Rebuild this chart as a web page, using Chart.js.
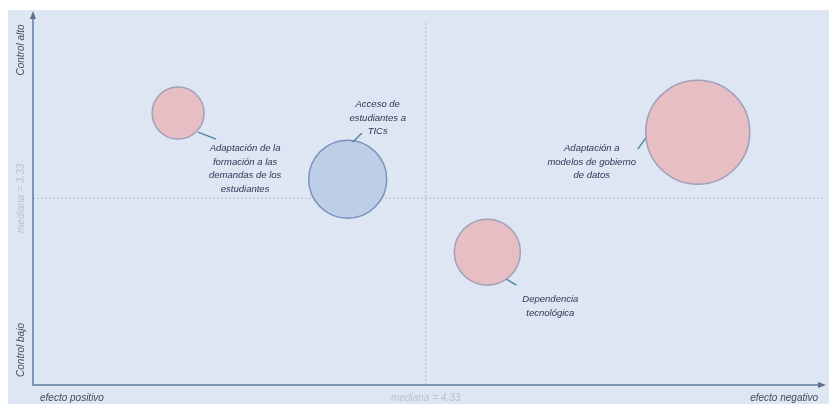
<!DOCTYPE html>
<html>
<head>
<meta charset="utf-8">
<script src="https://cdn.jsdelivr.net/npm/chart.js@4"></script>
<style>
html,body{margin:0;padding:0;background:#ffffff;}
#wrap{position:relative;width:829px;height:404px;}
</style>
</head>
<body>
<div id="wrap"><canvas id="c" width="829" height="404"></canvas></div>
<script>
// ---- data ----
const riskNames = [
  ["Adaptación de la", "formación a las", "demandas de los", "estudiantes"],
  ["Acceso de", "estudiantes a", "TICs"],
  ["Adaptación a", "modelos de gobierno", "de datos"],
  ["Dependencia", "tecnológica"]
];
const effectValues = [1.60, 3.47, 7.33, 5.01];   // x: efecto
const controlValues = [4.85, 3.67, 4.51, 2.37];  // y: control
const impactSizes = [26, 39, 52, 33];            // bubble radius
const bubbleGroup = ["pink", "blue", "pink", "pink"];
const medianX = 4.33;
const medianY = 3.33;
const xLabels = ["efecto positivo", "mediana = 4.33", "efecto negativo"];
const yLabels = ["Control bajo", "mediana = 3.33", "Control alto"];

// ---- styles ----
const fillColors = {pink: "rgba(232,190,197,1)", blue: "rgba(190,206,230,1)"};
const borderColors = {pink: "rgba(160,160,185,1)", blue: "rgba(120,145,190,1)"};
// label anchor offsets (pixels relative to bubble centre) and leader lines
const labelLayout = [
  {dx: 67, dy: 56, lx1: 20, ly1: 19, lx2: 38, ly2: 26},
  {dx: 30, dy: -61, lx1: 5, ly1: -37, lx2: 14, ly2: -46},
  {dx: -106, dy: 30, lx1: -52, ly1: 6, lx2: -60, ly2: 17},
  {dx: 63, dy: 54, lx1: 19, ly1: 27, lx2: 29, ly2: 33}
];

const points = effectValues.map((x, i) => ({x: x, y: controlValues[i], r: impactSizes[i]}));

const decor = {
  id: "decor",
  beforeDraw(chart) {
    const ctx = chart.ctx;
    ctx.save();
    ctx.fillStyle = "#dde6f2";
    ctx.fillRect(8, 10, chart.width - 8, chart.height - 10);
    const xs = chart.scales.x, ys = chart.scales.y;
    const a = chart.chartArea;
    // median lines
    ctx.strokeStyle = "rgba(175,190,210,1)";
    ctx.lineWidth = 1;
    ctx.setLineDash([2, 2]);
    const mx = xs.getPixelForValue(medianX), my = ys.getPixelForValue(medianY);
    ctx.beginPath(); ctx.moveTo(mx, a.top + 8); ctx.lineTo(mx, a.bottom); ctx.stroke();
    ctx.beginPath(); ctx.moveTo(a.left, my); ctx.lineTo(a.right, my); ctx.stroke();
    ctx.setLineDash([]);
    // axes
    ctx.strokeStyle = "rgba(125,150,182,1)";
    ctx.lineWidth = 2;
    ctx.beginPath();
    ctx.moveTo(a.left, a.top); ctx.lineTo(a.left, a.bottom); ctx.lineTo(a.right, a.bottom);
    ctx.stroke();
    ctx.fillStyle = "rgba(95,110,140,1)";
    ctx.beginPath(); ctx.moveTo(a.left, a.top - 4); ctx.lineTo(a.left - 3, a.top + 4); ctx.lineTo(a.left + 3, a.top + 4); ctx.fill();
    ctx.beginPath(); ctx.moveTo(a.right + 4, a.bottom); ctx.lineTo(a.right - 4, a.bottom - 3); ctx.lineTo(a.right - 4, a.bottom + 3); ctx.fill();
    // axis texts
    ctx.font = "italic 10px 'Liberation Sans', Arial, sans-serif";
    ctx.textBaseline = "middle";
    ctx.fillStyle = "rgba(70,75,95,1)";
    ctx.textAlign = "left"; ctx.fillText(xLabels[0], 40, 398);
    ctx.textAlign = "right"; ctx.fillText(xLabels[2], 818, 398);
    ctx.fillStyle = "rgba(185,195,210,1)";
    ctx.textAlign = "center"; ctx.fillText(xLabels[1], mx, 398);
    // y texts rotated
    const yt = [[yLabels[0], 350, "rgba(70,75,95,1)"], [yLabels[1], my, "rgba(185,195,210,1)"], [yLabels[2], 50, "rgba(70,75,95,1)"]];
    yt.forEach(t => {
      ctx.save();
      ctx.translate(21, t[1]);
      ctx.rotate(-Math.PI / 2);
      ctx.fillStyle = t[2];
      ctx.textAlign = "center";
      ctx.fillText(t[0], 0, 0);
      ctx.restore();
    });
    ctx.restore();
  },
  afterDatasetsDraw(chart) {
    const ctx = chart.ctx;
    const meta = chart.getDatasetMeta(0);
    ctx.save();
    ctx.font = "italic 9.5px 'Liberation Sans', Arial, sans-serif";
    ctx.textAlign = "center";
    ctx.textBaseline = "middle";
    meta.data.forEach((el, i) => {
      const L = labelLayout[i];
      ctx.strokeStyle = "rgba(80,135,165,1)";
      ctx.lineWidth = 1.5;
      ctx.beginPath();
      ctx.moveTo(el.x + L.lx1, el.y + L.ly1);
      ctx.lineTo(el.x + L.lx2, el.y + L.ly2);
      ctx.stroke();
      const lines = riskNames[i];
      const lh = 13.5;
      const y0 = el.y + L.dy - (lines.length - 1) * lh / 2;
      ctx.fillStyle = "rgba(45,55,85,1)";
      lines.forEach((ln, k) => ctx.fillText(ln, el.x + L.dx, y0 + k * lh));
    });
    ctx.restore();
  }
};

new Chart(document.getElementById("c"), {
  type: "bubble",
  data: {
    datasets: [{
      data: points,
      backgroundColor: bubbleGroup.map(g => fillColors[g]),
      borderColor: bubbleGroup.map(g => borderColors[g]),
      borderWidth: 1.5,
      hoverRadius: 0,
      clip: false
    }]
  },
  options: {
    responsive: false,
    animation: false,
    layout: {autoPadding: false, padding: {left: 33, right: 7, top: 15, bottom: 19}},
    plugins: {legend: {display: false}, tooltip: {enabled: false}},
    scales: {
      x: {type: "linear", min: 0, max: 8.70, display: false},
      y: {type: "linear", min: 0, max: 6.60, display: false}
    }
  },
  plugins: [decor]
});
</script>
</body>
</html>
